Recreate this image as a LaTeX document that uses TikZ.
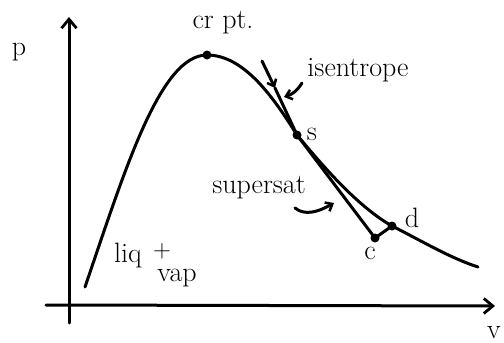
\documentclass[tikz,border=0pt]{standalone}
\usepackage{amsmath}
\usetikzlibrary{arrows.meta, positioning}

\begin{document}
\begin{tikzpicture}[x=1pt, y=-1pt,
      thk/.style={line width=3pt, line cap=round, line join=round},
      arr/.style={thk, -{Straight Barb[length=9pt, width=15pt, line width=2.8pt]}},
      sarr/.style={thk, -{Straight Barb[length=6pt, width=10pt, line width=2.5pt]}},
      dot/.style={circle, fill, inner sep=0pt, minimum size=9pt},
      lbl/.style={font=\fontsize{28}{30}\selectfont, inner sep=1pt}
  ]
    \useasboundingbox (0,0) rectangle (504,343);

    % axes
    \coordinate (ybot) at (69,323);
    \coordinate (ytop) at (69,17);
    \coordinate (xlft) at (46,305);
    \coordinate (xrgt) at (495,306);
    \draw[arr] (ybot) -- (ytop);
    \draw[arr] (xlft) -- (xrgt);
    \node[lbl] (plab) at (19,52) {p};
    \node[lbl] (vlab) at (494,333) {v};

    % saturation dome
    \node[dot] (crit) at (207,55) {};
    \node[dot] (s) at (297,135) {};
    \node[dot] (d) at (392,226) {};
    \node[dot] (c) at (375,238) {};
    \coordinate (dlft) at (85,287);
    \coordinate (drgt) at (478,267);
    \draw[thk] (dlft) .. controls (125,170) and (160,55) .. (crit.center)
      .. controls (245,55) and (275,100) .. (s.center)
      .. controls (318,160) and (355,205) .. (d.center)
      .. controls (420,240) and (450,258) .. (drgt);

    % isentrope s -> c -> d
    \coordinate (itop) at (262,61);
    \coordinate (imid) at (275,88);
    \draw[sarr] (itop) -- (imid);
    \draw[thk] (imid) -- (s.center) -- (c.center) -- (d.center);

    \node[lbl] (crlab) at (223,23) {cr pt.};
    \node[lbl] (islab) at (358,70) {isentrope};
    \node[lbl] (slab) at (312,134) {s};
    \node[lbl] (dlab) at (412,218) {d};
    \node[lbl] (clab) at (370,253) {c};
    \node[lbl] (sslab) at (259,188) {supersat};
    \node[lbl] (liqlab) at (128,256) {liq};
    \node[lbl] (pluslab) at (162,251) {$+$};
    \node[lbl] (vaplab) at (177,278) {vap};

    \coordinate (isfrom) at (302,83);
    \coordinate (isto) at (284,97);
    \draw[sarr] (isfrom) to[bend left=20] (isto);
    \coordinate (ssfrom) at (295,208);
    \coordinate (ssto) at (334,203);
    \draw[sarr] (ssfrom) .. controls (305,216) and (318,212) .. (ssto);
\end{tikzpicture}
\end{document}
